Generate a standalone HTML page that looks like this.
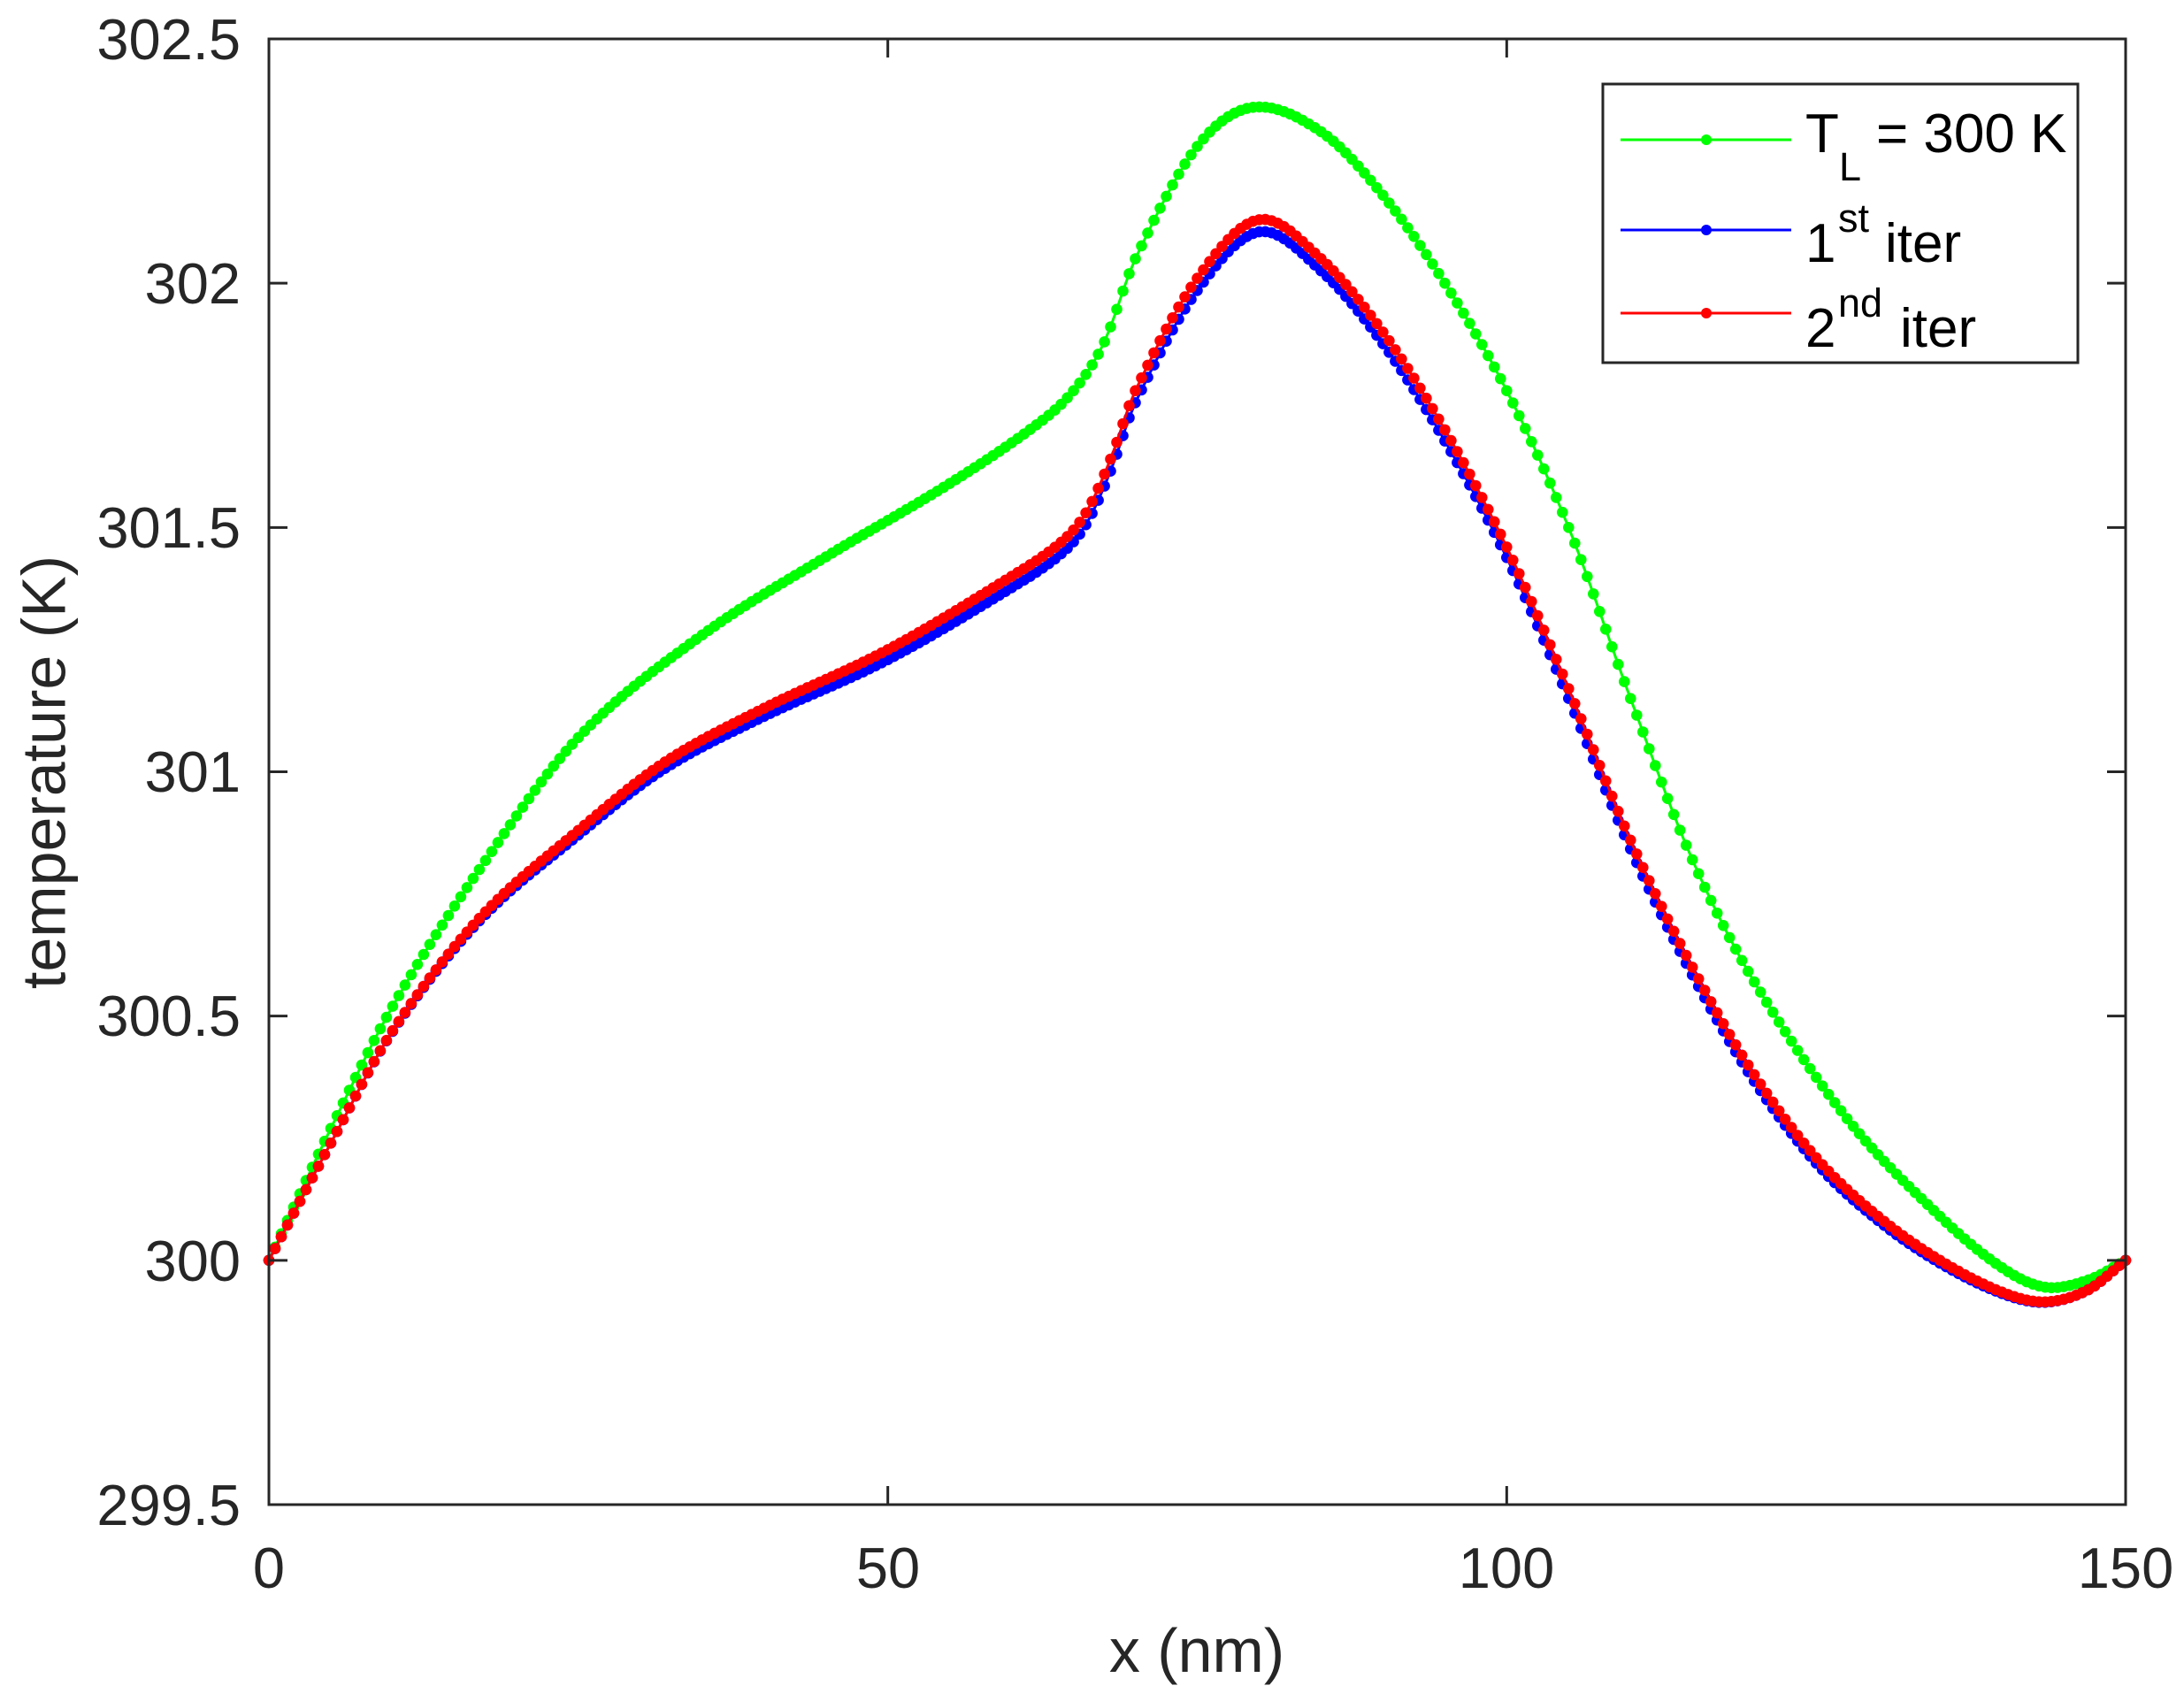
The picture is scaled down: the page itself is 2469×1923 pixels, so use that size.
<!DOCTYPE html>
<html><head><meta charset="utf-8"><style>
html,body{margin:0;padding:0;background:#fff}
svg{display:block}
text{font-family:"Liberation Sans",sans-serif;fill:#262626}
</style></head><body>
<svg id="s" width="2469" height="1923" viewBox="0 0 2469 1923" xmlns="http://www.w3.org/2000/svg">
<rect width="2469" height="1923" fill="#fff"/>
<g id="data"></g>
<g stroke="#262626" stroke-width="3" fill="none">
<rect x="304" y="44" width="2099" height="1657"/>
</g>
<g id="ticks" stroke="#262626" stroke-width="3"></g>
<g font-size="65" text-anchor="end">
<text x="272" y="67">302.5</text>
<text x="272" y="343">302</text>
<text x="272" y="619">301.5</text>
<text x="272" y="895">301</text>
<text x="272" y="1171">300.5</text>
<text x="272" y="1448">300</text>
<text x="272" y="1724">299.5</text>
</g>
<g font-size="65" text-anchor="middle">
<text x="304" y="1795">0</text>
<text x="1004" y="1795">50</text>
<text x="1703" y="1795">100</text>
<text x="2403" y="1795">150</text>
</g>
<text x="1353" y="1890" font-size="70" text-anchor="middle">x (nm)</text>
<text transform="translate(55,873) rotate(-90)" font-size="70" text-anchor="middle" dominant-baseline="middle">temperature (K)</text>
<rect x="1812" y="95" width="537" height="315" fill="#fff" stroke="#262626" stroke-width="3"/>
<line x1="1832" y1="158" x2="2025" y2="158" stroke="#00ff00" stroke-width="3"/><circle cx="1929" cy="158" r="6" fill="#00ff00"/>
<line x1="1832" y1="260" x2="2025" y2="260" stroke="#0000ff" stroke-width="3"/><circle cx="1929" cy="260" r="6" fill="#0000ff"/>
<line x1="1832" y1="354" x2="2025" y2="354" stroke="#ff0000" stroke-width="3"/><circle cx="1929" cy="354" r="6" fill="#ff0000"/>
<g font-size="62">
<text x="2041" y="172" style="fill:#000">T</text><text x="2079" y="204" font-size="45" style="fill:#000">L</text><text x="2121" y="172" style="fill:#000">= 300 K</text>
<text x="2041" y="296" style="fill:#000">1</text><text x="2078" y="262" font-size="45" style="fill:#000">st</text><text x="2131" y="296" style="fill:#000">iter</text>
<text x="2041" y="392" style="fill:#000">2</text><text x="2078" y="358" font-size="45" style="fill:#000">nd</text><text x="2148" y="392" style="fill:#000">iter</text>
</g>
</svg>
<script>
var NS="http://www.w3.org/2000/svg";
function X(x){return 304+x*2099/150}
function Y(t){return 1701-(t-299.5)*1657/3}
var tk=document.getElementById('ticks');
function ln(a,b,c,d){var l=document.createElementNS(NS,'line');l.setAttribute('x1',a);l.setAttribute('y1',b);l.setAttribute('x2',c);l.setAttribute('y2',d);tk.appendChild(l);}
[0,50,100,150].forEach(function(v){var x=X(v);ln(x,1701,x,1680);ln(x,44,x,65);});
[299.5,300,300.5,301,301.5,302,302.5].forEach(function(v){var y=Y(v);ln(304,y,325,y);ln(2403,y,2382,y);});
function interp(pts,x){
 for(var i=0;i<pts.length-1;i++){if(x<=pts[i+1][0])break;}
 if(i>=pts.length-1)i=pts.length-2;
 var p0=pts[Math.max(i-1,0)],p1=pts[i],p2=pts[i+1],p3=pts[Math.min(i+2,pts.length-1)];
 var h=p2[0]-p1[0],t=(x-p1[0])/h;
 var m1=(p2[1]-p0[1])/(p2[0]-p0[0])*h, m2=(p3[1]-p1[1])/(p3[0]-p1[0])*h;
 var t2=t*t,t3=t2*t;
 return (2*t3-3*t2+1)*p1[1]+(t3-2*t2+t)*m1+(-2*t3+3*t2)*p2[1]+(t3-t2)*m2;
}
var green=[[0,300],[5,300.27],[10,300.52],[17,300.8],[25,301.07],[35,301.28],[45,301.44],[55,301.59],[62,301.71],[65,301.78],[67.5,301.88],[70,302.05],[75,302.28],[79.5,302.36],[85,302.31],[90,302.18],[95,302.0],[100,301.78],[105,301.5],[110,301.15],[115,300.82],[120,300.57],[127.5,300.29],[135,300.09],[140,299.985],[143.5,299.945],[147,299.96],[150,300]];
var red=[[0,300],[5,300.24],[10,300.47],[17,300.7],[25,300.88],[32,301.02],[40,301.13],[50,301.25],[60,301.4],[64,301.47],[66,301.53],[68,301.64],[70,301.78],[75,302.01],[80,302.13],[85,302.05],[90,301.9],[95,301.7],[100,301.46],[105,301.17],[110,300.86],[115,300.6],[120,300.38],[125,300.21],[130,300.09],[135,300.0],[140,299.935],[143.5,299.915],[147,299.94],[150,300]];
var blue=red.map(function(p){var d=0;if(p[0]>8&&p[0]<145){d=0.025*Math.sin(Math.PI*(p[0]-8)/137);}return [p[0],p[1]-d];});
var g=document.getElementById('data');
function draw(pts,col){
 var d='',c='';
 for(var k=0;k<=300;k++){var x=k*0.5,t=interp(pts,x);var px=X(x).toFixed(1),py=Y(t).toFixed(1);d+=(k?'L':'M')+px+' '+py;c+='M'+(X(x)-6.3).toFixed(1)+' '+py+'a6.3 6.3 0 1 0 12.6 0a6.3 6.3 0 1 0 -12.6 0';}
 var p=document.createElementNS(NS,'path');p.setAttribute('d',d);p.setAttribute('stroke',col);p.setAttribute('stroke-width','3');p.setAttribute('fill','none');g.appendChild(p);
 var q=document.createElementNS(NS,'path');q.setAttribute('d',c);q.setAttribute('fill',col);g.appendChild(q);
}
draw(green,'#00ff00');draw(blue,'#0000ff');draw(red,'#ff0000');
</script>
</body></html>
